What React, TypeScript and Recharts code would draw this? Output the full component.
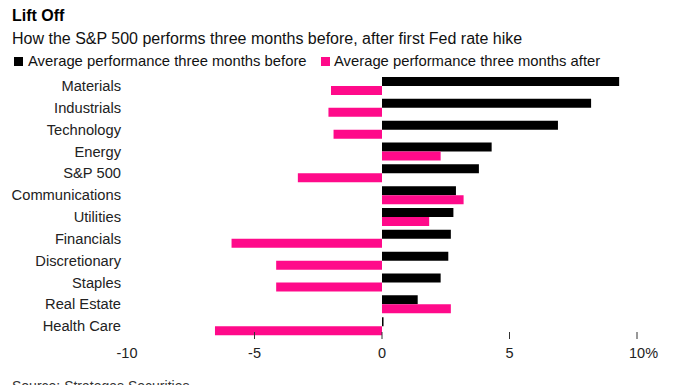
import { BarChart, Bar, XAxis, YAxis } from "recharts";

const categories = [
  "Materials",
  "Industrials",
  "Technology",
  "Energy",
  "S&P 500",
  "Communications",
  "Utilities",
  "Financials",
  "Discretionary",
  "Staples",
  "Real Estate",
  "Health Care",
];

const beforeValues = [9.3, 8.2, 6.9, 4.3, 3.8, 2.9, 2.8, 2.7, 2.6, 2.3, 1.4, 0.06];
const afterValues = [-2.0, -2.1, -1.9, 2.3, -3.3, 3.2, 1.85, -5.9, -4.15, -4.15, 2.7, -6.55];

const xTicks = [-10, -5, 0, 5, 10];

const FONT = '"Liberation Sans", Arial, Helvetica, sans-serif';
const PINK = "#ff0a8a";

const data = categories.map((name, i) => ({
  name,
  before: beforeValues[i],
  after: afterValues[i],
}));

function XTick(props: any) {
  const { x, y, payload } = props;
  const v = payload.value;
  return (
    <g>
      {v !== -10 && (
        <line x1={x} x2={x} y1={y - 5} y2={y + 2} stroke="#333" strokeWidth={1} />
      )}
      {v === 10 ? (
        <text x={x - 8} y={y + 21} textAnchor="start" fontSize={14.5} fill="#222" fontFamily={FONT}>
          10%
        </text>
      ) : (
        <text x={x} y={y + 21} textAnchor="middle" fontSize={14.5} fill="#222" fontFamily={FONT}>
          {v}
        </text>
      )}
    </g>
  );
}

export default function App() {
  return (
    <div
      style={{
        position: "absolute",
        left: 0,
        top: 0,
        width: 674,
        height: 385,
        background: "#fff",
        overflow: "hidden",
      }}
    >
      <BarChart
        width={674}
        height={385}
        data={data}
        layout="vertical"
        margin={{ top: 75, right: 37, bottom: 18, left: 0 }}
        barCategoryGap={2}
        barGap={0}
      >
        <XAxis
          type="number"
          domain={[-10, 10]}
          ticks={xTicks}
          axisLine={false}
          tickLine={false}
          tickSize={0}
          tickMargin={0}
          height={30}
          tick={<XTick />}
          interval={0}
        />
        <YAxis
          type="category"
          dataKey="name"
          width={127}
          axisLine={false}
          tickLine={false}
          tickSize={0}
          tickMargin={6}
          interval={0}
          tick={{ fontSize: 14.7, fill: "#222", fontFamily: FONT }}
        />
        <Bar dataKey="before" fill="#000" isAnimationActive={false} />
        <Bar dataKey="after" fill={PINK} isAnimationActive={false} />
      </BarChart>

      <svg
        width={674}
        height={385}
        style={{ position: "absolute", left: 0, top: 0, pointerEvents: "none" }}
      >
        <text x={12} y={21} fontSize={16} fontWeight="bold" fill="#000" fontFamily={FONT}>
          Lift Off
        </text>
        <text x={12} y={44} fontSize={16} fill="#111" fontFamily={FONT}>
          How the S&amp;P 500 performs three months before, after first Fed rate hike
        </text>
        <rect x={14} y={57} width={9} height={9} fill="#000" />
        <text x={28} y={66} fontSize={14.8} fill="#111" fontFamily={FONT}>
          Average performance three months before
        </text>
        <rect x={321} y={57} width={9} height={9} fill={PINK} />
        <text x={334} y={66} fontSize={14.8} fill="#111" fontFamily={FONT}>
          Average performance three months after
        </text>
        <text x={12} y={391} fontSize={14} fill="#333" fontFamily={FONT}>
          Source: Strategas Securities
        </text>
      </svg>
    </div>
  );
}
